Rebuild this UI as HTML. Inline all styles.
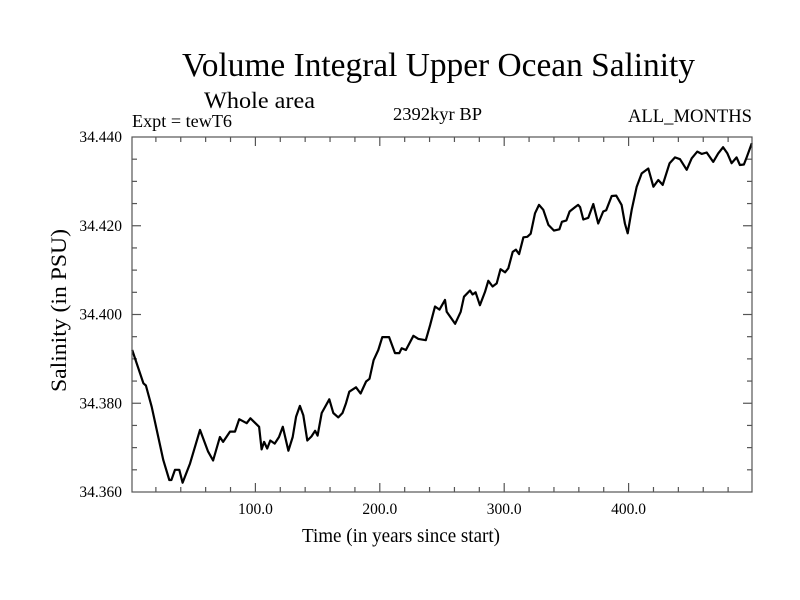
<!DOCTYPE html>
<html><head><meta charset="utf-8"><style>
html,body{margin:0;padding:0;background:#fff;}
svg{display:block;font-family:"Liberation Serif",serif;}
</style></head><body>
<svg id="chart" width="800" height="600" viewBox="0 0 800 600" xmlns="http://www.w3.org/2000/svg">
<rect width="800" height="600" fill="#fff"/>
<text x="182" y="76" font-size="33.4" textLength="513" lengthAdjust="spacingAndGlyphs">Volume Integral Upper Ocean Salinity</text>
<text x="204" y="108" font-size="23.5" textLength="111" lengthAdjust="spacingAndGlyphs">Whole area</text>
<text x="132" y="127" font-size="17.5" textLength="100" lengthAdjust="spacingAndGlyphs">Expt = tewT6</text>
<text x="393" y="120" font-size="18" textLength="89" lengthAdjust="spacingAndGlyphs">2392kyr BP</text>
<text x="628" y="122" font-size="18.5" textLength="124" lengthAdjust="spacingAndGlyphs">ALL_MONTHS</text>
<text x="302" y="542" font-size="20" textLength="198" lengthAdjust="spacingAndGlyphs">Time (in years since start)</text>
<text transform="translate(66,392) rotate(-90)" font-size="22" textLength="163" lengthAdjust="spacingAndGlyphs">Salinity (in PSU)</text>
<g id="axes"></g>
<path id="series" fill="none" stroke="#000" stroke-width="2.2" stroke-linejoin="round"/>
<rect x="132" y="137" width="620" height="355" fill="none" stroke="#555" stroke-width="1.2"/>
</svg>
<script>
const years = [1,10,12,16.6,19,26,30.8,32.5,35.4,38.8,41.5,47.4,55.5,62,66,71.5,74,79.6,83.6,87,93,96,103,105,107,109.5,112,115.5,119,122,126.5,130,132.7,135.8,138.5,141.7,145,148,150,153.3,159.4,162.6,166.6,170,172.8,175.5,180.9,184.6,189,191.7,195,198.8,202,207.5,212.2,215.7,217.6,221,227,231,237,240.4,244.4,248,252.4,253.8,260.5,265,267.7,272.5,274.6,277,280.5,284.6,287.2,290.7,294,297,300.7,303.3,306.8,309.4,312,315.4,318.6,321.3,324.8,328,331.4,335.5,340,344.4,346.4,350,352.6,357,359.4,361,363.6,367.6,371.6,375.6,379.6,382,386.4,390,394.4,397,399.3,402.5,406.5,410.5,415.8,419.9,423.9,427.4,433,437.3,441.3,446.7,450.7,455.2,458.8,462.8,468,472,476,479.4,482.8,486.8,489.5,492.7,495,499];
const salinity = [34.392,34.3845,34.384,34.3792,34.3762,34.3672,34.3627,34.3627,34.365,34.365,34.3621,34.3664,34.374,34.3691,34.3671,34.3724,34.3713,34.3736,34.3736,34.3764,34.3755,34.3766,34.3747,34.3696,34.3713,34.3698,34.3716,34.3709,34.3724,34.3747,34.3693,34.3724,34.377,34.3794,34.3773,34.3716,34.3725,34.3738,34.3727,34.3778,34.3809,34.3778,34.3768,34.3778,34.38,34.3826,34.3836,34.3822,34.3849,34.3855,34.3897,34.392,34.3949,34.3949,34.3913,34.3913,34.3924,34.392,34.3952,34.3945,34.3942,34.3976,34.4018,34.4011,34.4033,34.4006,34.3979,34.4006,34.404,34.4054,34.4045,34.405,34.4021,34.4051,34.4076,34.4063,34.407,34.4102,34.4095,34.4104,34.4141,34.4146,34.4136,34.4174,34.4175,34.4182,34.4228,34.4247,34.4236,34.4202,34.4189,34.4192,34.4209,34.4212,34.4232,34.4242,34.4247,34.4242,34.4214,34.4218,34.4249,34.4205,34.4232,34.4235,34.4267,34.4268,34.4247,34.4205,34.4183,34.4236,34.4288,34.4318,34.4329,34.4288,34.4303,34.4292,34.4341,34.4354,34.435,34.4326,34.4352,34.4367,34.4362,34.4365,34.4344,34.4363,34.4377,34.4363,34.4341,34.4354,34.4337,34.4338,34.4355,34.4386];
const xTicks = [100,200,300,400];
const xTickLabels = ["100.0","200.0","300.0","400.0"];
const yTicks = [34.36,34.38,34.40,34.42,34.44];
const yTickLabels = ["34.360","34.380","34.400","34.420","34.440"];

const X0=132,X1=752,Y0=492,Y1=137, xMin=0.8, xMax=499.2, yMin=34.36, yMax=34.44;
function xs(v){return X0+(v-xMin)/(xMax-xMin)*(X1-X0);}
function ys(v){return Y0-(v-yMin)/(yMax-yMin)*(Y0-Y1);}
const NS="http://www.w3.org/2000/svg";
const axes=document.getElementById('axes');
function ln(x1,y1,x2,y2,name){const l=document.createElementNS(NS,'line');
l.setAttribute('x1',x1);l.setAttribute('y1',y1);l.setAttribute('x2',x2);l.setAttribute('y2',y2);
l.setAttribute('stroke','#555');l.setAttribute('stroke-width','1.2');


axes.appendChild(l);}
function tx(x,y,s,anchor,name){const t=document.createElementNS(NS,'text');
t.setAttribute('x',x);t.setAttribute('y',y);t.setAttribute('font-size','15.5');t.setAttribute('text-anchor',anchor);t.textContent=s;


axes.appendChild(t);}
for(let v=20;v<xMax;v+=20){const x=xs(v);const major=v%100===0;const L=major?9:5;
ln(x,Y0,x,Y0-L,'x-tick');ln(x,Y1,x,Y1+L,'x-tick-top');}
for(let v=yMin+0.005;v<yMax-0.001;v+=0.005){const y=ys(v);const major=Math.abs(Math.round(v*1000/20)*20-v*1000)<0.5;const L=major?9:5;
ln(X0,y,X0+L,y,'y-tick');ln(X1,y,X1-L,y,'y-tick-right');}
xTicks.forEach((v,i)=>tx(xs(v),514,xTickLabels[i],'middle','x-tick-label'));
yTicks.forEach((v,i)=>tx(122,ys(v)+5,yTickLabels[i],'end','y-tick-label'));
let d='';years.forEach((v,i)=>{d+=(i?'L':'M')+xs(v).toFixed(1)+' '+ys(salinity[i]).toFixed(1);});
document.getElementById('series').setAttribute('d',d);
</script>
</body></html>
